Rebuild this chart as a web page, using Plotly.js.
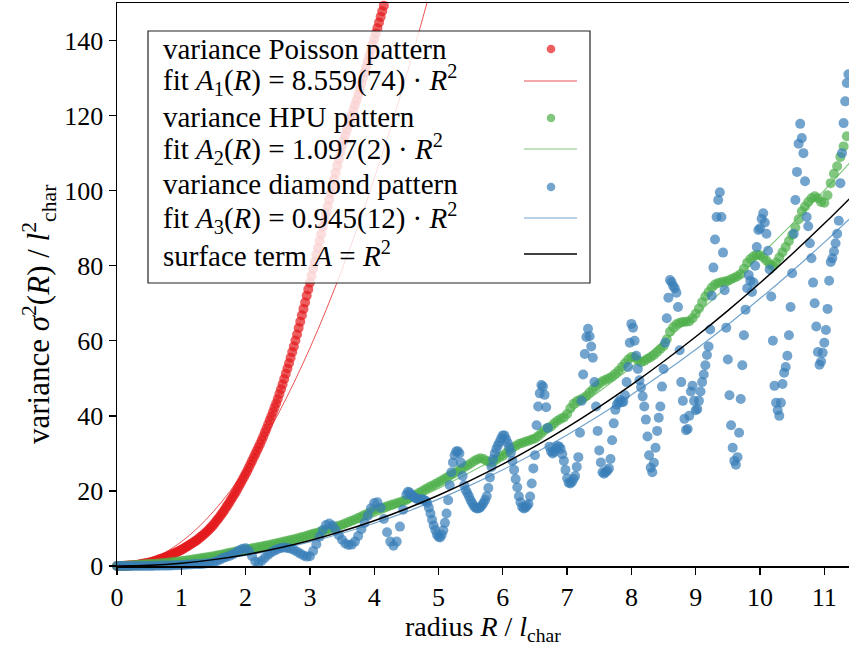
<!DOCTYPE html>
<html>
<head>
<meta charset="utf-8">
<script src="https://cdn.plot.ly/plotly-3.0.1.min.js"></script>
<style>html,body{margin:0;padding:0;background:#fff;}#chart{width:849px;height:648px;}</style>
</head>
<body>
<div id="chart"></div>
<script>
// ---- data ----
// radius sampling (start / step) for each series
const poissonR0 = 0, poissonDR = 0.025;
const poissonVar = [
0,0.0,0.01,0.02,0.03,0.05,0.07,0.1,0.13,0.16,
0.2,0.24,0.29,0.35,0.42,0.5,0.57,0.64,0.72,0.81,
0.9,1.02,1.15,1.28,1.42,1.56,1.7,1.84,1.98,2.14,
2.3,2.48,2.66,2.85,3.04,3.24,3.44,3.65,3.86,4.08,
4.3,4.55,4.8,5.05,5.3,5.6,5.85,6.15,6.4,6.7,
7.0,7.35,7.7,8.05,8.4,8.8,9.2,9.6,10.1,10.5,
11.0,11.5,12.1,12.6,13.2,13.8,14.4,15.0,15.7,16.3,
17.0,17.7,18.4,19.1,19.8,20.6,21.4,22.1,22.9,23.7,
24.5,25.3,26.2,27.1,28.0,28.9,29.8,30.7,31.6,32.5,
33.5,34.5,35.6,36.6,37.7,38.8,39.9,41.0,42.2,43.3,
44.5,45.8,47.1,48.4,49.8,51.2,52.6,54.0,55.5,57.0,
58.5,60.1,61.7,63.4,65.1,66.8,68.5,70.2,72.0,73.7,
75.5,77.3,79.2,81.0,82.9,84.7,86.6,88.4,90.3,92.1,
94,95.8,97.6,99.4,101.2,103.0,104.8,106.6,108.4,110.2,
112,113.4,114.8,116.2,117.5,118.8,120.1,121.5,122.8,124.1,
125.5,127,128.5,130,131.5,133,134.5,136,137.5,139,
140.5,141.9,143.3,144.8,146.3,147.8,149.3
];

const hpuR0 = 0, hpuDR = 0.05;
const hpuVar = [
0.00,0.02,0.05,0.08,0.12,0.18,0.24,0.30,0.37,0.44,
0.50,0.56,0.62,0.68,0.74,0.80,0.90,1.00,1.10,1.20,
1.30,1.42,1.54,1.66,1.78,1.90,2.04,2.18,2.32,2.46,
2.60,2.78,2.96,3.14,3.32,3.50,3.68,3.86,4.04,4.22,
4.40,4.56,4.72,4.88,5.04,5.20,5.38,5.56,5.74,5.92,
6.10,6.30,6.50,6.70,6.90,7.10,7.34,7.58,7.82,8.06,
8.30,8.56,8.82,9.08,9.34,9.60,9.88,10.16,10.44,10.72,
11.00,11.35,11.70,12.05,12.40,12.80,13.20,13.60,14.00,14.40,
14.80,15.10,15.35,15.60,15.90,16.20,16.45,16.70,17.00,17.30,
17.60,18.10,18.60,19.00,19.50,20.00,20.50,21.00,21.40,21.85,
22.30,22.80,23.30,23.80,24.30,24.80,25.30,25.80,26.30,26.80,
27.30,27.90,28.40,28.70,28.50,28.00,27.60,27.80,28.40,29.00,
29.40,30.10,30.80,31.50,32.00,32.50,32.80,33.10,33.40,33.70,
34.00,34.60,35.40,36.20,36.80,37.20,38.00,38.70,39.20,39.60,
40.50,42.00,43.20,43.90,44.30,44.70,45.30,46.20,47.00,47.80,
48.60,49.20,49.60,50.00,50.50,51.20,52.00,53.00,54.00,55.00,
55.70,55.60,54.80,54.30,54.60,55.20,55.60,56.20,57.00,57.80,
58.60,60.40,62.40,63.60,64.40,64.80,65.00,65.10,65.20,66.00,
67.20,68.60,70.30,71.80,73.00,74.20,75.00,75.40,75.60,75.80,
76.00,76.40,76.80,77.20,77.80,79.20,80.80,81.80,82.50,82.90,
82.80,82.20,81.40,80.40,79.90,80.80,82.20,83.60,85.00,86.60,
88.20,90.20,92.40,94.50,95.80,97.00,98.00,98.50,98.00,97.00,
96.80,98.80,102.00,104.50,106.50,109.00,111.80,114.50,116.00
];

const diamondLowR0 = 0, diamondLowDR = 0.05;
const diamondVarLow = [
0,0,0,0,0,0,0,0,0,0,
0,0,0.05,0.05,0.1,0.1,0.1,0.15,0.2,0.2,
0.25,0.3,0.4,0.4,0.5,0.5,0.5,0.6,0.7,0.8,
1.0,1.3,1.7,2.1,2.4,2.7,3.1,3.6,4.1,4.6,
4.7,4.0,2.6,1.2,0.8,1.4,2.2,3.0,3.6,4.1,
4.5,4.8,4.9,4.8,4.6,4.3,3.8,3.3,2.8,2.5,
2.6,4.0,5.8,7.8,9.6,10.9,11.3,10.8,9.6,8.2,
7.0,6.0,5.6,5.7,6.5,8.0,9.8,11.5,13.4,15.4,
16.8,17.0,15.5,12.5,9.0,6.5,5.4,6.5,10.5,15.0
];

const diamondHighR0 = 4.5, diamondHighDR = 0.025;
const diamondVarHigh = [
19.0,19.8,19.6,19.0,18.6,18.3,18.0,17.8,17.7,17.7,
17.8,17.6,17.4,16.8,15.5,14.0,12.3,10.8,9.6,8.4,
7.8,7.6,8.3,9.5,11.5,14.0,17.5,21.5,25.0,27.6,
29.5,30.5,30.6,30.0,27.5,24.0,21.5,20.2,19.4,18.5,
17.5,16.7,16.0,15.5,15.3,15.4,15.6,16.2,16.8,17.6,
18.6,20.8,23.6,26.4,28.5,30.0,31.2,32.2,33.0,34.0,
34.8,34.8,33.8,32.8,31.6,30.2,28.0,25.6,23.2,21.0,
18.6,17.0,15.8,15.3,15.5,16.0,16.5,18.5,22.0,26.0,
29.5,37.5,42.5,46.0,48.2,47.8,45.6,42.3,36.8,31.8,
30.5,30.0,30.4,31.3,32.0,31.8,31.2,29.8,28.0,25.6,
23.4,22.2,22.0,22.4,23.2,24.0,26.4,29.0,35.5,44.0,
51.0,56.5,61.0,63.2,61.2,58.5,55.5,49.0,42.5,36.0,
30.8,27.6,25.0,24.6,25.0,25.4,26.0,28.5,33.5,38.0,
41.6,43.0,43.6,44.2,43.6,43.8,45.5,49.0,53.0,59.5,
64.5,63.5,60.0,56.0,52.5,49.5,47.6,45.2,42.5,39.0,
34.5,29.5,26.2,25.0,27.5,31.5,36.0,39.5,42.5,47.8,
52.5,59.5,66.0,71.5,76.2,75.6,74.6,74.0,72.8,69.0,
57.5,49.0,44.0,39.2,36.2,36.5,40.0,46.5,48.0,44.0,
41.5,41.8,44.0,46.5,49.0,51.0,53.5,56.2,58.5,63.0,
72.0,79.5,87.0,93.0,97.5,99.6,93.0,83.5,73.5,63.5,
55.0,45.5,37.5,31.5,28.0,27.0,29.0,35.5,44.5,53.5,
61.5,68.3,74.0,77.5,76.0,73.0,75.5,80.0,85.0,89.5,
90.0,92.5,94.0,91.5,88.5,84.0,79.0,71.8,60.0,48.0,
43.5,41.5,40.0,43.5,48.5,51.5,53.0,56.0,61.5,69.0,
78.0,88.5,97.5,105.0,112.5,117.8,114.0,110.0,102.5,93.0,
90.5,86.0,82.0,75.5,70.0,63.8,57.0,53.6,54.5,56.8,
59.5,62.9,68.5,76.0,81.0,82.0,83.8,86.0,88.5,92.0,
102.0,110.0,118.0,123.8,128.7,131.0,132.0
];

// fit curves and surface term, read at R = 0, 0.5, 1.0, ...
const curveR0 = 0, curveDR = 0.5;
const fitPoisson = [0,1.61,6.45,14.51,25.8,40.31,58.05,79.01,103.2,130.61,161.25];
const fitHPU     = [0,0.21,0.83,1.86,3.31,5.17,7.44,10.13,13.23,16.75,20.68,25.02,29.77,34.94,40.52,46.52,52.93,59.75,66.99,74.63,82.7,91.17,100.07,109.37];
const fitDiamond = [0,0.18,0.71,1.60,2.85,4.45,6.41,8.73,11.4,14.43,17.81,21.55,25.65,30.10,34.91,40.08,45.6,51.48,57.71,64.3,71.25,78.55,86.21,94.23];
const surfaceTerm= [0,0.19,0.75,1.70,3.02,4.71,6.79,9.24,12.06,15.27,18.85,22.81,27.14,31.86,36.95,42.41,48.26,54.48,61.07,68.05,75.4,83.13,91.23,99.72];

const xTicks = [0,1,2,3,4,5,6,7,8,9,10,11];
const yTicks = [0,20,40,60,80,100,120,140];

const legendLabels = [
  'variance Poisson pattern',
  'fit <i>A</i><sub>1</sub>(<i>R</i>) = 8.559(74) · <i>R</i><sup>2</sup>',
  'variance HPU pattern',
  'fit <i>A</i><sub>2</sub>(<i>R</i>) = 1.097(2) · <i>R</i><sup>2</sup>',
  'variance diamond pattern',
  'fit <i>A</i><sub>3</sub>(<i>R</i>) = 0.945(12) · <i>R</i><sup>2</sup>',
  'surface term <i>A</i> = <i>R</i><sup>2</sup>'
];

// ---- styling ----
const RED = '#e41a1c', GREEN = '#4daf4a', BLUE = '#377eb8';
const FONT = 'Liberation Serif, Times New Roman, serif';
const MS = 10, MOP = 0.7;

function pts(y, x0, dx, color) {
  return {type:'scatter', mode:'markers', y:y, x0:x0, dx:dx, cliponaxis:false,
    marker:{color:color, size:MS, opacity:MOP, line:{width:0}}, hoverinfo:'skip', showlegend:false};
}
function curve(y, color, w) {
  return {type:'scatter', mode:'lines', y:y, x0:curveR0, dx:curveDR,
    line:{color:color, width:w, shape:'spline'}, hoverinfo:'skip', showlegend:false};
}

const traces = [
  pts(poissonVar, poissonR0, poissonDR, RED),
  curve(fitPoisson, 'rgba(228,26,28,0.75)', 1),
  pts(hpuVar, hpuR0, hpuDR, GREEN),
  curve(fitHPU, 'rgba(77,175,74,0.7)', 1.2),
  pts(diamondVarLow, diamondLowR0, diamondLowDR, BLUE),
  pts(diamondVarHigh, diamondHighR0, diamondHighDR, BLUE),
  curve(fitDiamond, 'rgba(55,126,184,0.7)', 1.2),
  curve(surfaceTerm, '#000000', 1.5)
];

// legend built from shapes + annotations (text left, symbol right)
const L = 117, PW = 732, T = 3, PH = 563;
const px2x = p => (p - L) / PW;
const px2y = p => (T + PH - p) / PH;

const rowY = [49, 80, 117, 149, 184, 218, 254];
const shapes = [
  {type:'rect', xref:'paper', yref:'paper', x0:px2x(148), x1:px2x(590), y0:px2y(283), y1:px2y(31),
   fillcolor:'rgba(255,255,255,0.8)', line:{color:'#222', width:1.2}, layer:'above'}
];
const symColors = [RED, GREEN, BLUE];
const symY = [49, 118, 187];
symY.forEach((yy,i) => {
  shapes.push({type:'circle', xref:'paper', yref:'paper', xsizemode:'pixel', ysizemode:'pixel',
    xanchor:px2x(551), yanchor:px2y(yy), x0:-4.3, x1:4.3, y0:-4.3, y1:4.3,
    fillcolor:symColors[i], opacity:0.7, line:{width:0}, layer:'above'});
});
const lineColors = ['rgba(228,26,28,0.75)','rgba(77,175,74,0.7)','rgba(55,126,184,0.7)','#000'];
const lineY = [81, 149, 218, 254];
lineY.forEach((yy,i) => {
  shapes.push({type:'line', xref:'paper', yref:'paper', x0:px2x(524), x1:px2x(577),
    y0:px2y(yy), y1:px2y(yy), line:{color:lineColors[i], width:i===3?1.5:1.2}, layer:'above'});
});

const annotations = legendLabels.map((t, i) => ({
  xref:'paper', yref:'paper', x:px2x(161), y:px2y(rowY[i]), xanchor:'left', yanchor:'middle',
  text:t, showarrow:false, font:{family:FONT, size:29, color:'#000'}
}));
annotations.push({xref:'paper', yref:'paper', x:0.5, y:px2y(648), xanchor:'center', yanchor:'bottom',
  text:'radius <i>R</i> / <i>l</i><sub>char</sub>', showarrow:false, font:{family:FONT, size:28, color:'#000'}});
annotations.push({xref:'paper', yref:'paper', x:px2x(39), y:px2y(314), xanchor:'center', yanchor:'middle', textangle:-90,
  text:'variance <i>σ</i><sup>2</sup>(<i>R</i>) / <i>l</i><sup>2</sup><sub>char</sub>', showarrow:false, font:{family:FONT, size:31, color:'#000'}});

const axisCommon = {showgrid:false, zeroline:false, showline:true, linecolor:'#000', linewidth:1.5,
  ticks:'outside', ticklen:7, tickwidth:1.3, tickcolor:'#000', tickfont:{family:FONT, size:26, color:'#000'}};

const layout = {
  width:849, height:648, margin:{l:L, r:0, t:T, b:648-T-PH, pad:0},
  paper_bgcolor:'#fff', plot_bgcolor:'#fff', showlegend:false,
  xaxis:Object.assign({}, axisCommon, {range:[0, 11.384], tickmode:'array', tickvals:xTicks, mirror:true}),
  yaxis:Object.assign({}, axisCommon, {range:[0,150], tickmode:'array', tickvals:yTicks, mirror:false}),
  shapes:shapes, annotations:annotations
};

Plotly.newPlot('chart', traces, layout, {staticPlot:true, displayModeBar:false});
</script>
</body>
</html>
